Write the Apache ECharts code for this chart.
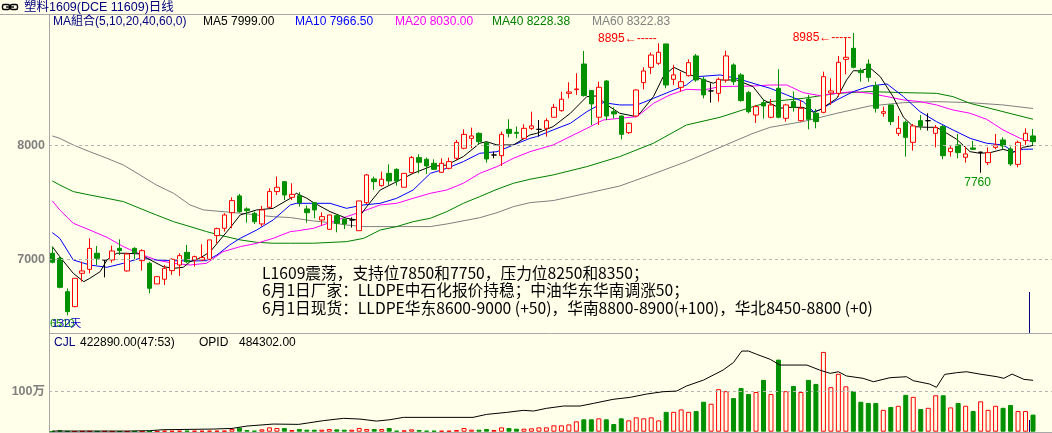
<!DOCTYPE html>
<html><head><meta charset="utf-8">
<script src="https://cdn.jsdelivr.net/npm/echarts@6/dist/echarts.min.js"></script>
<style>html,body{margin:0;padding:0;background:#FFFFEA;}#c{width:1052px;height:433px;}</style>
</head><body><div id="c"></div>
<script>
// ---- data ----
const opens  = [7053,7009,6716,6585,6877,6912,7053,6994,6994,7096,6898,7096,6988,6965,6784,6825,6901,6950,7061,6994,6994,7000,7208,7272,7409,7556,7442,7403,7310,7456,7594,7681,7544,7558,7442,7497,7345,7263,7383,7354,7345,7251,7497,7705,7646,7754,7789,7632,7760,7892,7877,7842,7763,7798,7886,7974,8061,8105,8023,7915,7909,8140,8114,8061,8149,8140,8149,8246,8304,8456,8488,8713,8480,8246,8564,8295,8257,8111,8257,8550,8684,8719,8889,8579,8509,8611,8784,8579,8477,8456,8573,8705,8617,8462,8266,8374,8246,8500,8237,8383,8216,8406,8281,8289,8459,8456,8754,8851,8655,8713,8523,8281,8354,8105,8202,8026,8216,8216,8105,8164,7944,8003,7895,7977,7939,7848,7982,8047,7968,7833,8041,8082];
const closes = [6974,6754,6541,6833,6898,7096,7009,6994,7073,7076,7047,7058,7076,6746,6848,6921,7000,7032,6979,7023,7015,7170,7269,7389,7515,7418,7427,7330,7433,7594,7632,7564,7570,7497,7409,7433,7374,7389,7316,7310,7345,7512,7740,7681,7702,7687,7687,7754,7892,7851,7819,7789,7842,7857,8026,8096,8082,8032,7880,7915,8096,8105,8105,8149,8170,8140,8216,8333,8404,8468,8494,8436,8363,8509,8257,8275,8096,8193,8485,8652,8792,8816,8529,8617,8558,8725,8573,8442,8477,8579,8784,8558,8392,8295,8339,8345,8354,8246,8354,8333,8325,8228,8208,8602,8477,8728,8772,8684,8637,8596,8325,8295,8208,8149,8070,8170,8170,8216,8155,7909,7974,7936,7924,7965,7939,7936,8003,7994,7836,8026,8105,8032];
const lows   = [6965,6745,6510,6579,6804,6877,6950,6842,6971,7038,6892,7000,6901,6702,6784,6775,6863,6854,6965,6936,6985,6994,7140,7243,7272,7409,7322,7310,7287,7447,7564,7520,7520,7462,7322,7360,7301,7257,7237,7266,7278,7251,7485,7608,7637,7652,7646,7632,7754,7754,7749,7784,7760,7789,7871,7965,7974,8003,7848,7886,7819,8070,8061,8061,8135,8076,8076,8246,8295,8412,8442,8427,8178,8178,8222,8237,8053,8099,8246,8491,8626,8705,8500,8529,8471,8602,8558,8412,8374,8383,8550,8529,8383,8281,8196,8234,8237,8237,8208,8295,8208,8140,8149,8281,8354,8427,8623,8675,8558,8558,8287,8251,8178,8082,7901,7953,8135,8129,7982,7877,7901,7886,7848,7959,7760,7827,7965,7965,7819,7807,8003,8003];
const highs  = [7111,7024,6745,6833,6979,7184,7117,7000,7120,7175,7053,7105,7088,6979,6848,6950,7009,7053,7126,7032,7132,7170,7278,7404,7544,7573,7456,7418,7468,7623,7725,7687,7667,7588,7471,7497,7412,7389,7395,7354,7368,7512,7749,7725,7769,7833,7798,7754,7906,7921,7892,7877,7886,7892,8047,8140,8155,8114,8032,7944,8120,8228,8164,8184,8295,8222,8237,8363,8471,8553,8632,8827,8485,8558,8573,8333,8260,8199,8491,8684,8815,8895,8889,8705,8646,8754,8801,8602,8544,8594,8830,8719,8632,8477,8354,8403,8406,8667,8363,8471,8398,8442,8319,8646,8588,8784,8947,8985,8675,8754,8558,8339,8354,8257,8216,8187,8266,8281,8178,8178,8003,8099,7988,8038,7944,7982,8099,8070,7988,8041,8149,8143];
const volumes = [8000,35000,12000,10000,15000,15000,9000,14000,8000,9000,8000,12000,9000,10000,14000,
  25000,22000,25000,27000,25000,24000,26000,25000,28000,
  66000,99000,41000,25000,58000,107000,91000,91000,41000,66000,49000,49000,49000,66000,58000,49000,49000,91000,66000,66000,66000,91000,25000,33000,58000,41000,25000,25000,25000,25000,41000,91000,49000,49000,66000,41000,107000,91000,74000,74000,
  83000,107000,107000,157000,157000,180000,256000,306000,306000,330000,306000,190000,330000,280000,355000,330000,355000,280000,490000,490000,550000,490000,510000,740000,690000,1050000,1000000,830000,1080000,930000,980000,1280000,930000,1780000,1000000,1130000,980000,1280000,1180000,1970000,1100000,1430000,1120000,1000000,740000,710000,710000,540000,610000,640000,910000,860000,560000,590000,900000,900000,600000,710000,640000,510000,750000,540000,640000,590000,660000,510000,510000,422890];
// moving-average lines: [candle index, value]
const ma5Pts = [[0,7111],[1,7023],[2.8,6877],[4.2,6804],[5,6833],[6.4,6892],[7.3,6994],[8.6,7053],[9.9,7053],[11.7,7047],[13.1,6994],[14.8,6936],[16.2,6921],[17.5,6930],[18.4,6979],[19.7,7009],[21.1,7067],[22.4,7170],[23.7,7272],[25.1,7389],[27.3,7433],[29.5,7447],[31.8,7535],[32.6,7579],[34,7535],[34.9,7497],[37.1,7418],[39.3,7360],[40.7,7345],[42,7462],[43.8,7608],[46,7681],[48.2,7754],[50.5,7813],[52.7,7827],[54.9,7901],[57.1,8018],[58,8032],[59.4,8003],[61.6,8003],[63.8,8091],[64.7,8105],[66.9,8164],[69.2,8281],[71.4,8427],[72.7,8433],[74.1,8354],[75.8,8281],[77.6,8257],[78.5,8281],[80.3,8427],[81.6,8602],[83,8684],[84.7,8632],[87,8573],[88.3,8544],[89.2,8573],[91.4,8573],[93.6,8515],[95,8398],[97.2,8325],[98.1,8333],[100.3,8333],[101.7,8289],[102.5,8310],[104.8,8412],[106.1,8573],[107,8655],[107.9,8652],[109.2,8681],[110.6,8602],[112.3,8427],[113.7,8246],[115,8164],[116.8,8158],[118.1,8158],[119.5,8105],[120.8,8053],[122.6,7944],[123.9,7930],[125.3,7936],[127,7965],[128.4,7939],[129.7,7982],[131,7999]];
const ma10Pts = [[0,7234],[1,7184],[2.8,6994],[5,6950],[7.3,6930],[9.5,6965],[11.7,7009],[13.1,7000],[13.9,6994],[16.2,6988],[18.4,6985],[20.6,6988],[22,7038],[23.7,7126],[25.1,7184],[27.3,7257],[29.5,7345],[31.8,7477],[32.6,7491],[34.9,7491],[37.1,7491],[39.3,7447],[41.6,7477],[43.8,7491],[46,7535],[48.2,7608],[50.5,7754],[52.7,7798],[54.9,7857],[57.1,7930],[59.4,7944],[61.6,8003],[63.8,8061],[64.7,8076],[66.9,8135],[69.2,8193],[71.4,8295],[73.6,8374],[75.8,8354],[78.1,8354],[80.3,8412],[82.5,8471],[84.7,8529],[86.1,8602],[89.2,8617],[91.4,8588],[93.6,8544],[95.9,8500],[98.1,8442],[100.3,8383],[101.7,8295],[102.5,8310],[104.8,8398],[107,8471],[109.2,8520],[111.5,8538],[113.7,8427],[115.9,8295],[118.1,8208],[120.3,8135],[122.6,8061],[124.8,8018],[127,8003],[128.4,7944],[129.7,7965],[131,7966.5]];
const ma20Pts = [[0,7512],[1,7433],[2.8,7316],[5,7257],[7.3,7193],[9.5,7111],[11.7,7047],[13.9,6994],[16.2,6965],[18.4,6950],[20.6,6965],[22.8,7067],[25.1,7111],[27.3,7140],[29.5,7184],[31.8,7243],[32.6,7249],[34.9,7272],[39.3,7374],[41.6,7424],[43.8,7477],[46,7491],[48.2,7535],[50.5,7579],[52.7,7608],[54.9,7667],[57.1,7754],[59.4,7813],[61.6,7886],[63.8,7944],[66.9,8003],[71.4,8149],[73.6,8222],[75.8,8237],[78.1,8251],[80.3,8368],[82.5,8442],[84.7,8491],[87,8485],[89.2,8515],[93.6,8520],[95.9,8529],[98.1,8529],[100.3,8462],[102.5,8436],[104.8,8456],[107,8471],[109.2,8456],[111.5,8427],[113.7,8398],[115.9,8383],[118.1,8354],[120.3,8310],[122.6,8281],[124.8,8228],[127,8135],[129.3,8061],[131,8030]];
const ma40Pts = [[0,7687],[1,7652],[2.8,7594],[5,7564],[7.3,7535],[9.5,7506],[11.7,7447],[13.9,7389],[16.2,7330],[18.4,7287],[20.6,7243],[22.8,7205],[25.1,7170],[27.3,7149],[29.5,7141],[31.8,7141],[34.9,7141],[39.3,7155],[41.6,7184],[43.8,7257],[46,7287],[48.2,7330],[50.5,7360],[52.7,7418],[54.9,7491],[57.1,7550],[59.4,7614],[61.6,7667],[63.8,7702],[66.9,7740],[71.4,7813],[75.8,7901],[80.3,8018],[84.7,8178],[89.2,8246],[93.6,8339],[95.9,8383],[100.3,8412],[104.8,8456],[109.2,8471],[113.7,8462],[118.1,8456],[120.3,8427],[122.6,8368],[127,8295],[131,8228.38]];
const ma60Pts = [[0,8082],[1,8061],[2.8,8003],[5,7944],[7.3,7886],[9.5,7827],[11.7,7740],[13.9,7652],[16.2,7579],[18.4,7477],[20.2,7433],[22.8,7418],[25.1,7404],[27.3,7389],[29.5,7374],[31.8,7366],[34.9,7336],[37.1,7322],[39.3,7301],[41.6,7287],[46,7287],[50.5,7287],[52.7,7310],[57.1,7365],[59.4,7409],[61.6,7462],[63.8,7497],[66.9,7515],[71.4,7579],[75.8,7643],[80.3,7749],[84.7,7857],[89.2,7982],[93.6,8105],[95.9,8158],[100.3,8208],[104.8,8281],[109.2,8345],[113.7,8374],[118.1,8383],[122.6,8374],[127,8354],[131,8322.83]];
const opidPts = [[0,6300],[4,6300],[10,6300],[13,9400],[14.8,18800],[21.5,25000],[24,31000],[26,53000],[29.5,72000],[32.9,69000],[36.2,104000],[38.9,126000],[41.1,119000],[43.3,100000],[45.1,113000],[46.9,135000],[56.2,135000],[58,163000],[60.7,182000],[62.9,201000],[64.3,195000],[66,220000],[68.3,242000],[70.5,242000],[72.3,267000],[74.9,305000],[77.2,324000],[79.4,355000],[81.6,377000],[83.4,383000],[84.7,430000],[87,487000],[89.6,581000],[91,653000],[92.1,760000],[93,760000],[94.1,729000],[95.9,682000],[97.2,628000],[100.8,628000],[102.5,581000],[103.9,550000],[105,565000],[106.1,525000],[108.3,503000],[109.7,471000],[111.9,509000],[114.1,518000],[115,481000],[117.2,449000],[118.1,418000],[119.2,540000],[120.8,556000],[122.1,565000],[123.9,543000],[126.2,518000],[127.1,503000],[128.2,543000],[129.8,493000],[131,484302]];
const yTickLabels = [7000, 8000];
const volTickLabels = {1000000: '100万'};
const title = '塑料1609(DCE 11609)日线';
const notes = ['L1609震荡，支持位7850和7750，压力位8250和8350；',
               '6月1日厂家：LLDPE中石化报价持稳；中油华东华南调涨50；',
               '6月1日现货：LLDPE华东8600-9000 (+50)，华南8800-8900(+100)，华北8450-8800 (+0)'];
const markHighIdx = [81, 107];
const markLowIdx = 124;

// ---- build ----
const BG = '#FFFFEA', RED = '#FF0000', GREEN = '#009000';
const FONT = '"Liberation Sans","Noto Sans CJK SC",sans-serif';
const NOTE_FONT = '15.7px "Noto Sans CJK SC",sans-serif';
const cats = opens.map((_, i) => 'D' + (i + 1));
const ohlc = opens.map((o, i) => [o, closes[i], lows[i], highs[i]]);
const volData = volumes.map((v, i) => closes[i] >= opens[i]
  ? {value: v, itemStyle: {color: BG, borderColor: RED, borderWidth: 1}}
  : {value: v, itemStyle: {color: GREEN, borderColor: GREEN, borderWidth: 1}});
const last = a => a[a.length - 1][1];
const minLow = Math.min(...lows);

const L = 48.56, W = 988.2;
const chart = echarts.init(document.getElementById('c'), null, {renderer: 'canvas'});
const maLine = (pts, color) => ({type: 'line', xAxisIndex: 2, yAxisIndex: 1, data: pts, symbol: 'none',
  lineStyle: {color, width: 1}, silent: true, z: 3});
const txt = (x, y, text, fill, font, extra) => Object.assign({type: 'text', x, y,
  style: {text, fill, font: font || ('12px ' + FONT), textVerticalAlign: 'middle', verticalAlign: 'middle'}}, extra || {});

chart.setOption({
  animation: false,
  backgroundColor: BG,
  grid: [
    {left: 49, right: 0, top: 31.3, height: 296.4},
    {left: L, width: W, top: 31.3, height: 296.4},
    {left: 49, right: 0, top: 334.5, height: 97.2},
    {left: L, width: W, top: 334.5, height: 97.2}
  ],
  xAxis: [
    {gridIndex: 0, type: 'value', show: false, min: 0, max: 1},
    {gridIndex: 1, type: 'category', data: cats, show: false},
    {gridIndex: 1, type: 'value', show: false, min: -0.5, max: 131.5},
    {gridIndex: 2, type: 'value', show: false, min: 0, max: 1},
    {gridIndex: 3, type: 'category', data: cats, show: false},
    {gridIndex: 3, type: 'value', show: false, min: -0.5, max: 131.5}
  ],
  yAxis: [
    {gridIndex: 0, type: 'value', min: 6400, max: 9000, interval: 200,
      axisLine: {show: false}, axisTick: {show: false}, splitLine: {show: false},
      axisLabel: {margin: 4, color: '#808080', fontWeight: 'bold', fontSize: 12.5, fontFamily: FONT,
        formatter: v => yTickLabels.includes(v) ? String(v) : ''}},
    {gridIndex: 1, type: 'value', min: 6400, max: 9000, show: false},
    {gridIndex: 2, type: 'value', min: 0, max: 2400000, interval: 1000000,
      axisLine: {show: false}, axisTick: {show: false}, splitLine: {show: false},
      axisLabel: {margin: 4, color: '#808080', fontWeight: 'bold', fontSize: 12.5, fontFamily: FONT,
        formatter: v => volTickLabels[v] || ''}},
    {gridIndex: 3, type: 'value', min: 0, max: 2400000, show: false},
    {gridIndex: 3, type: 'value', min: 0, max: 916000, show: false}
  ],
  series: [
    {type: 'line', xAxisIndex: 0, yAxisIndex: 0, data: [], silent: true,
      markLine: {silent: true, symbol: 'none', label: {show: false},
        lineStyle: {type: [3, 3], color: '#b4b4b4', width: 1},
        data: yTickLabels.map(v => ({yAxis: v}))}},
    {type: 'line', xAxisIndex: 3, yAxisIndex: 2, data: [], silent: true,
      markLine: {silent: true, symbol: 'none', label: {show: false},
        lineStyle: {type: [3, 3], color: '#b4b4b4', width: 1},
        data: Object.keys(volTickLabels).map(v => ({yAxis: +v}))}},
    maLine(ma60Pts, '#808080'),
    maLine(ma40Pts, '#008000'),
    maLine(ma20Pts, '#FF00FF'),
    maLine(ma10Pts, '#0000FF'),
    maLine(ma5Pts, '#000000'),
    {type: 'candlestick', xAxisIndex: 1, yAxisIndex: 1, data: ohlc, barWidth: 5, z: 4,
      itemStyle: {color: BG, color0: GREEN, borderColor: RED, borderColor0: GREEN, borderColorDoji: '#000000', borderWidth: 1},
      markPoint: {symbol: 'circle', symbolSize: 0, silent: true,
        data: [
          {coord: [cats[markHighIdx[0]], highs[markHighIdx[0]]], value: highs[markHighIdx[0]],
            label: {position: 'left', distance: 2, offset: [0, -5]}},
          {coord: [cats[markHighIdx[1]], highs[markHighIdx[1]]], value: highs[markHighIdx[1]],
            label: {position: 'left', distance: 2, offset: [0, 5]}},
          {coord: [cats[markLowIdx], lows[markLowIdx]], value: lows[markLowIdx],
            label: {position: 'bottom', distance: 4, offset: [-3, 0], color: GREEN,
              formatter: p => String(p.value)}}
        ],
        label: {show: true, color: RED, fontSize: 12, fontFamily: FONT,
          formatter: p => p.value + '←-----'}}},
    {type: 'bar', xAxisIndex: 4, yAxisIndex: 3, data: volData, barWidth: 5, silent: true},
    {type: 'line', xAxisIndex: 5, yAxisIndex: 4, data: opidPts, symbol: 'none', silent: true,
      lineStyle: {color: '#000000', width: 1}, z: 5}
  ],
  graphic: [
    {type: 'line', shape: {x1: 0, y1: 14.5, x2: 1052, y2: 14.5}, style: {stroke: '#a8a8a8', lineWidth: 1}},
    {type: 'line', shape: {x1: 49.5, y1: 15, x2: 49.5, y2: 433}, style: {stroke: '#a8a8a8', lineWidth: 1}},
    {type: 'line', shape: {x1: 49, y1: 333.5, x2: 1052, y2: 333.5}, style: {stroke: '#a8a8a8', lineWidth: 1}},
    {type: 'line', shape: {x1: 49, y1: 432.5, x2: 1052, y2: 432.5}, style: {stroke: '#a8a8a8', lineWidth: 1}},
    {type: 'rect', shape: {x: 2.5, y: 4.5, width: 7, height: 5, r: 1.5}, style: {stroke: '#000', fill: null, lineWidth: 1.4}},
    {type: 'rect', shape: {x: 10.5, y: 4.5, width: 7, height: 5, r: 1.5}, style: {stroke: '#000', fill: null, lineWidth: 1.4}},
    {type: 'line', shape: {x1: 6, y1: 7, x2: 14, y2: 7}, style: {stroke: '#000', lineWidth: 1.4}},
    txt(24, 7.5, title, '#000080', '12.5px ' + FONT),
    txt(53, 21.5, 'MA組合(5,10,20,40,60,0)', '#000080'),
    txt(203, 21.5, 'MA5 ' + last(ma5Pts).toFixed(2), '#000000'),
    txt(295, 21.5, 'MA10 ' + last(ma10Pts).toFixed(2), '#0000FF'),
    txt(395, 21.5, 'MA20 ' + last(ma20Pts).toFixed(2), '#FF00FF'),
    txt(492, 21.5, 'MA40 ' + last(ma40Pts).toFixed(2), '#008000'),
    txt(592, 21.5, 'MA60 ' + last(ma60Pts).toFixed(2), '#808080'),
    txt(54, 342.5, 'CJL', '#000080'),
    txt(80, 342.5, volumes[volumes.length - 1].toFixed(2) + '(47:53)', '#000000'),
    txt(199, 342.5, 'OPID', '#000000'),
    txt(239, 342.5, last(opidPts).toFixed(2), '#000000'),
    txt(262, 273, notes[0], '#000000', NOTE_FONT),
    txt(262, 290.5, notes[1], '#000000', NOTE_FONT),
    txt(262, 308, notes[2], '#000000', NOTE_FONT),
    txt(50, 324, String(minLow), GREEN, '11px ' + FONT),
    txt(52, 324, cats.length + '天', '#0000C0', '11px ' + FONT),
    {type: 'line', shape: {x1: 1029.5, y1: 292, x2: 1029.5, y2: 333}, style: {stroke: '#000080', lineWidth: 1}},
    {type: 'line', shape: {x1: 1029.5, y1: 420, x2: 1029.5, y2: 432}, style: {stroke: '#000080', lineWidth: 1}}
  ]
});
</script>
</body></html>
